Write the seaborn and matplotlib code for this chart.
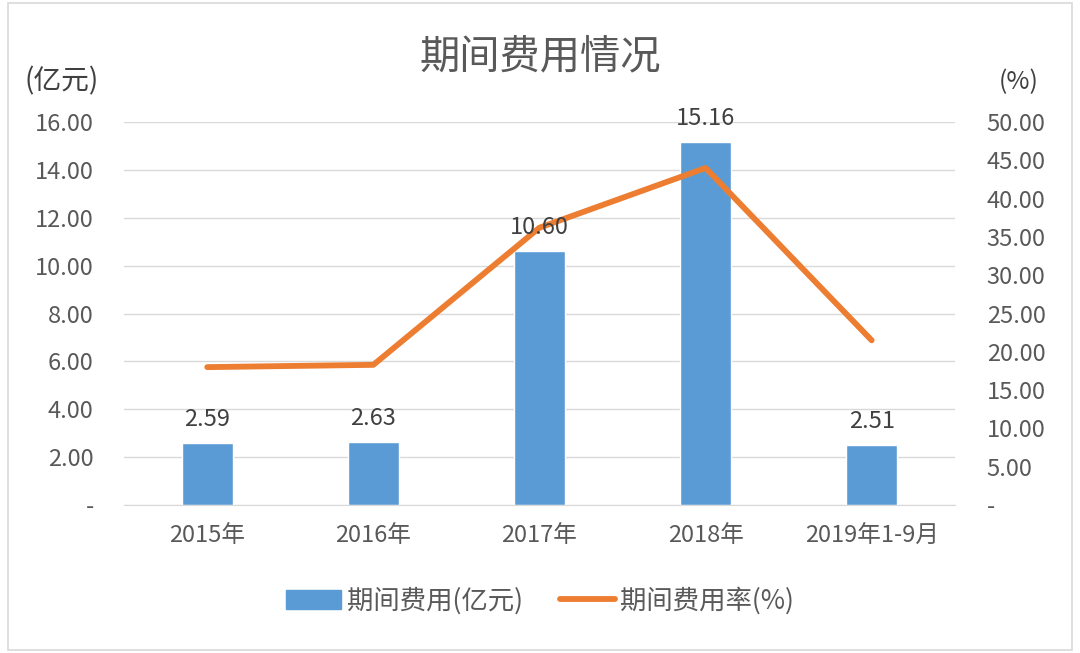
import numpy as np
import pandas as pd
import matplotlib
matplotlib.use("Agg")
import matplotlib.pyplot as plt
import seaborn as sns
from matplotlib.ticker import FuncFormatter
from matplotlib.patches import Rectangle

years = ["2015年", "2016年", "2017年", "2018年", "2019年1-9月"]
expense = [2.59, 2.63, 10.60, 15.16, 2.51]
expense_rate = [18.0, 18.3, 36.2, 44.0, 21.5]
left_ticks = [0, 2, 4, 6, 8, 10, 12, 14, 16]
right_ticks = [0, 5, 10, 15, 20, 25, 30, 35, 40, 45, 50]

sns.set_style("white")
plt.rcParams["font.family"] = ["Noto Sans CJK SC", "DejaVu Sans"]

BLUE = "#5B9BD5"
ORANGE = "#ED7D31"
GRAY = "#595959"

df = pd.DataFrame({"year": years, "expense": expense, "rate": expense_rate})

fig = plt.figure(figsize=(10.8, 6.53), dpi=100)
ax = fig.add_axes([0.115, 0.2266, 0.769, 0.5866])

sns.barplot(data=df, x="year", y="expense", color=BLUE, width=0.31,
            saturation=1, ax=ax, zorder=2)
ax.set_ylim(0, 16)
ax.set_yticks(left_ticks)
ax.yaxis.grid(True, color="#D9D9D9", linewidth=1)
ax.set_axisbelow(True)

def fmt(v, pos):
    return "-" if abs(v) < 1e-9 else f"{v:.2f}"

ax.yaxis.set_major_formatter(FuncFormatter(fmt))
ax.tick_params(axis="y", length=0, labelsize=17, colors=GRAY, pad=22)
ax.tick_params(axis="x", length=0, labelsize=17, colors=GRAY, pad=14)
for s in ["top", "left", "right"]:
    ax.spines[s].set_visible(False)
ax.spines["bottom"].set_color("#D9D9D9")
ax.set_xlabel("")
ax.set_ylabel("")

ax2 = ax.twinx()
sns.lineplot(data=df, x="year", y="rate", color=ORANGE, linewidth=4.2,
             sort=False, ax=ax2, zorder=3)
ax2.set_ylim(0, 50)
ax2.set_yticks(right_ticks)
ax2.yaxis.set_major_formatter(FuncFormatter(fmt))
ax2.tick_params(axis="y", length=0, labelsize=17, colors=GRAY, pad=23)
for s in ax2.spines.values():
    s.set_visible(False)
ax2.set_ylabel("")
ax2.set_xlabel("")
ax.set_xlim(-0.5, len(years) - 0.5)

# data labels above bars, drawn over the line
for i, v in enumerate(expense):
    ax2.text(i, v + 0.5, f"{v:.2f}", ha="center", va="bottom",
             fontsize=17, color="#404040", transform=ax.transData, zorder=5)

fig.text(0.5, 0.913, "期间费用情况", ha="center", va="center",
         fontsize=29, color=GRAY)
fig.text(0.057, 0.875, "(亿元)", ha="center", va="center",
         fontsize=20, color="#404040")
fig.text(0.943, 0.875, "(%)", ha="center", va="center",
         fontsize=18, color="#404040")

handles = [Rectangle((0, 0), 1, 1, color=BLUE),
           plt.Line2D([0], [0], color=ORANGE, linewidth=4.2)]
fig.legend(handles, ["期间费用(亿元)", "期间费用率(%)"], loc="center",
           bbox_to_anchor=(0.5, 0.08), ncol=2, frameon=False, fontsize=19,
           handlelength=2.1, handletextpad=0.2, columnspacing=1.4,
           labelcolor=GRAY)

fig.patches.append(Rectangle((0.007, 0.005), 0.986, 0.99, transform=fig.transFigure,
                             fill=False, edgecolor="#D9D9D9", linewidth=1.2))

fig.savefig("out.png", dpi=100)
